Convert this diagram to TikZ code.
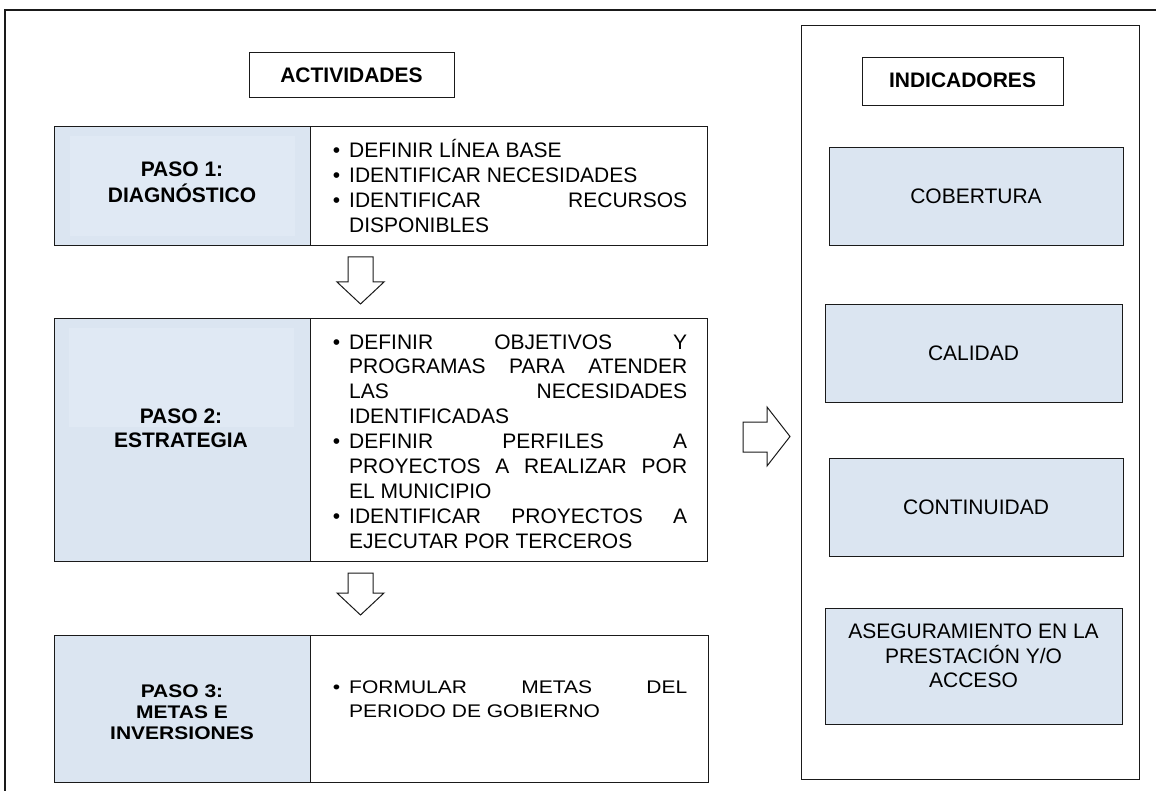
\documentclass[tikz,border=0pt]{standalone}
\usepackage{fontspec}
\setmainfont{Liberation Sans}
\usepackage{graphicx}
\definecolor{stepblue}{HTML}{DBE5F1}
\definecolor{stepinner}{HTML}{E0E9F4}
\definecolor{ink}{HTML}{1A1A1A}
\newcommand\clines[2]{\vtop{\baselineskip=#1\lineskiplimit=-20pt\halign{\hfil##\hfil\cr#2\crcr}}}
\newcommand\llines[2]{\vtop{\baselineskip=#1\lineskiplimit=-20pt #2}}
\newcommand\jl[1]{\hbox to 338pt{#1}}
\newcommand\bl{\llap{•\hskip 9pt}}
\tikzset{
  every node/.style={font=\fontsize{21}{25}\selectfont, text=black},
  boxbase/.style={draw=ink, line width=1.2pt, inner sep=0pt, anchor=north west},
  bluebox/.style={boxbase, fill=stepblue},
  whitebox/.style={boxbase, fill=white},
  txt/.style={inner sep=0pt, anchor=base},
  listtxt/.style={inner sep=0pt, anchor=base west},
  blockarrow/.style={draw=ink, line width=1pt, fill=white, line join=miter},
  frame/.style={draw=ink, line width=1.5pt}
}
\begin{document}
\begin{tikzpicture}[x=1pt,y=-1pt]
\useasboundingbox (0,0) rectangle (1156,791);
% outer frame (partly outside the page)
\draw[frame] (5,820) -- (5,10) -- (1190,10);

% header ACTIVIDADES
\node[whitebox, minimum width=205pt, minimum height=45pt] (hact) at (249,52) {};
\node[txt] (hacttxt) at (351.5,82.5) {\bfseries ACTIVIDADES};

% row 1
\node[bluebox, minimum width=256pt, minimum height=119pt] (p1l) at (54,126) {};
\fill[stepinner] (70,136) rectangle (295,236);
\node[whitebox, minimum width=397pt, minimum height=119pt] (p1r) at (310,126) {};
\node[txt] (p1lab) at (182,177) {\bfseries\clines{26pt}{PASO 1:\cr DIAGNÓSTICO}};
\node[listtxt] (p1list) at (349,158) {\llines{25pt}{%
  \hbox{\bl DEFINIR LÍNEA BASE}
  \hbox{\bl IDENTIFICAR NECESIDADES}
  \jl{\bl IDENTIFICAR\hfill RECURSOS}
  \hbox{DISPONIBLES}}};

% row 2
\node[bluebox, minimum width=256pt, minimum height=243pt] (p2l) at (54,318) {};
\fill[stepinner] (69,328) rectangle (294,427);
\node[whitebox, minimum width=397pt, minimum height=243pt] (p2r) at (310,318) {};
\node[txt] (p2lab) at (181,423) {\bfseries\clines{24pt}{PASO 2:\cr ESTRATEGIA}};
\node[listtxt] (p2list) at (349,349) {\llines{24.9pt}{%
  \jl{\bl DEFINIR\hfill OBJETIVOS\hfill Y}
  \jl{PROGRAMAS\hfill PARA\hfill ATENDER}
  \jl{LAS\hfill NECESIDADES}
  \hbox{IDENTIFICADAS}
  \jl{\bl DEFINIR\hfill PERFILES\hfill A}
  \jl{PROYECTOS\hfill A\hfill REALIZAR\hfill POR}
  \hbox{EL MUNICIPIO}
  \jl{\bl IDENTIFICAR\hfill PROYECTOS\hfill A}
  \hbox{EJECUTAR POR TERCEROS}}};

% row 3
\node[bluebox, minimum width=256pt, minimum height=147pt] (p3l) at (54,635) {};
\node[whitebox, minimum width=398pt, minimum height=147pt] (p3r) at (310,635) {};
\node[txt] (p3lab) at (182,697) {\scalebox{1}[0.87]{\bfseries\clines{24.5pt}{PASO 3:\cr METAS E\cr INVERSIONES}}};
\node[listtxt] (p3list) at (349,693) {\scalebox{1}[0.87]{\llines{27.6pt}{%
  \jl{\bl FORMULAR\hfill METAS\hfill DEL}
  \hbox{PERIODO DE GOBIERNO}}}};

% block arrows
\coordinate (a1) at (360.5,257);
\draw[blockarrow] (348,257) -- (373,257) -- (373,282) -- (384,282) -- (360.5,304) -- (337,282) -- (348,282) -- cycle;
\draw[blockarrow] (348,573) -- (373,573) -- (373,593) -- (384,593) -- (360.5,615) -- (337,593) -- (348,593) -- cycle;
\draw[blockarrow] (743,422) -- (767,422) -- (767,407) -- (790,436.5) -- (767,466) -- (767,452) -- (743,452) -- cycle;

% right panel
\node[whitebox, minimum width=338pt, minimum height=754pt] (panel) at (801,25) {};
\node[whitebox, minimum width=201pt, minimum height=48pt] (hind) at (862,57) {};
\node[txt] (hindtxt) at (962.5,88) {\bfseries INDICADORES};

\node[bluebox, minimum width=294pt, minimum height=98pt] (cob) at (829,147) {};
\node[txt] (cobtxt) at (976,203.5) {COBERTURA};
\node[bluebox, minimum width=297pt, minimum height=98pt] (cal) at (825,304) {};
\node[txt] (caltxt) at (973.5,360.5) {CALIDAD};
\node[bluebox, minimum width=294pt, minimum height=98pt] (con) at (829,458) {};
\node[txt] (contxt) at (976,514) {CONTINUIDAD};
\node[bluebox, minimum width=297pt, minimum height=116pt] (ase) at (825,608) {};
\node[txt] (asetxt) at (973.5,638.5) {\clines{24.5pt}{ASEGURAMIENTO EN LA\cr PRESTACIÓN Y/O\cr ACCESO}};
\end{tikzpicture}
\end{document}
